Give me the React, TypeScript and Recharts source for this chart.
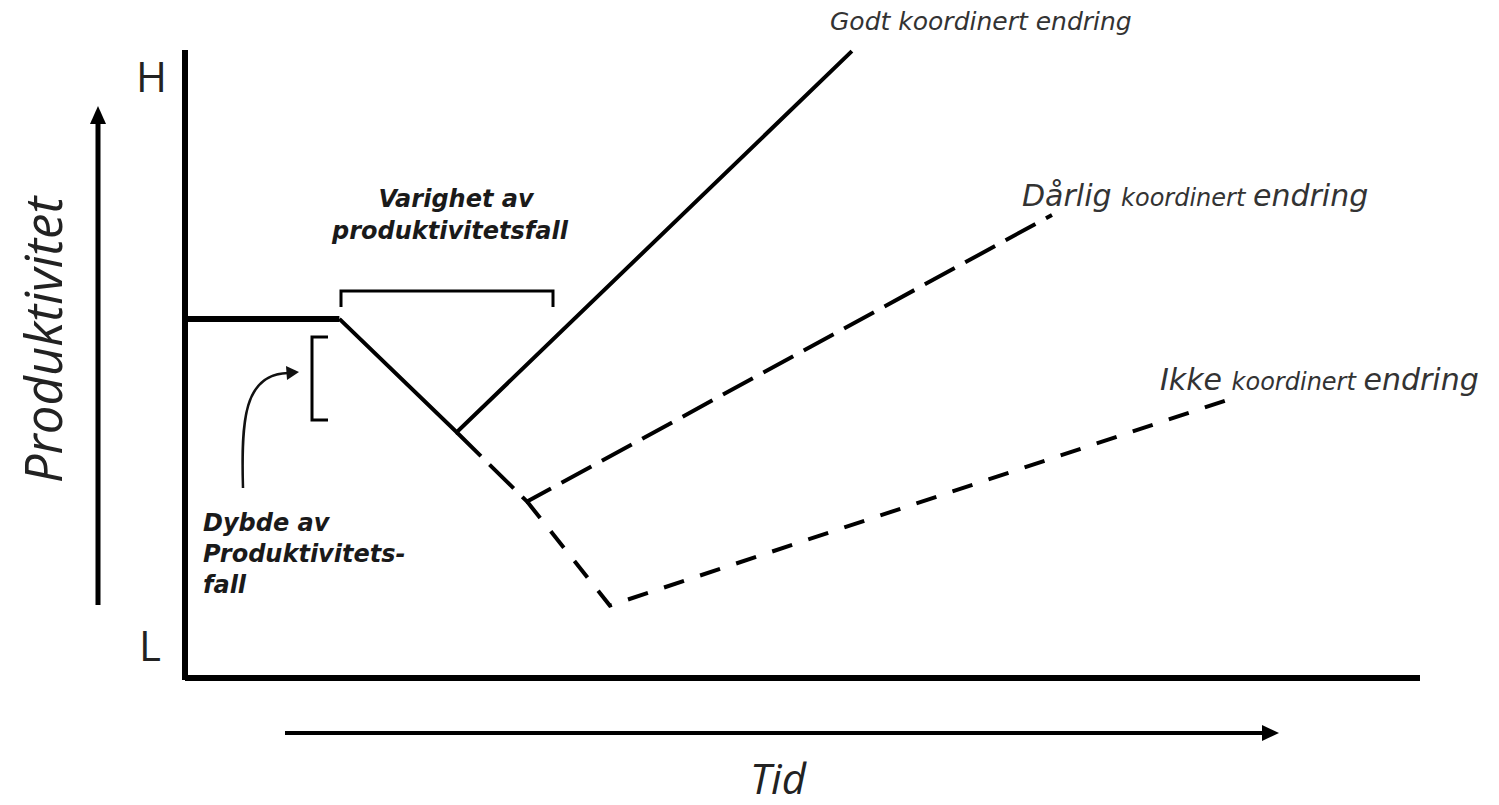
import { LineChart, Line, XAxis, YAxis, ReferenceLine } from 'recharts';

// Konseptdiagram: produktivitet over tid ved endring
const baseTid = [0, 12.5];
const baseProd = [57, 57];
const godtTid = [12.5, 22, 54];
const godtProd = [57, 39, 99.5];
const darligTid = [22, 27.7, 70.2];
const darligProd = [39, 28, 73.5];
const ikkeTid = [27.7, 34.4, 84.8];
const ikkeProd = [28, 11.5, 44.4];

const toRows = (xs: number[], ys: number[]) => xs.map((x, i) => ({ tid: x, prod: ys[i] }));

const W = 1499;
const H = 805;

const labelFont = '"DejaVu Sans", Verdana, sans-serif';
const axisFont = '"Open Sans", sans-serif';

export default function App() {
  return (
    <div style={{ position: 'absolute', left: 0, top: 0, width: W, height: H, background: '#fff' }}>
      <LineChart width={W} height={H} margin={{ top: 48, right: 79, bottom: 127, left: 185 }}>
        <XAxis dataKey="tid" type="number" domain={[0, 100]} hide />
        <YAxis dataKey="prod" type="number" domain={[0, 100]} hide />
        <ReferenceLine
          segment={[{ x: 0, y: 0 }, { x: 100, y: 0 }]}
          stroke="#000"
          strokeWidth={6}
          ifOverflow="visible"
        />
        <ReferenceLine
          segment={[{ x: 0, y: -0.3 }, { x: 0, y: 99.7 }]}
          stroke="#000"
          strokeWidth={6}
          ifOverflow="visible"
        />
        <Line
          data={toRows(baseTid, baseProd)}
          dataKey="prod"
          stroke="#000"
          strokeWidth={6}
          dot={false}
          activeDot={false}
          isAnimationActive={false}
        />
        <Line
          data={toRows(godtTid, godtProd)}
          dataKey="prod"
          stroke="#000"
          strokeWidth={4}
          dot={false}
          activeDot={false}
          isAnimationActive={false}
        />
        <Line
          data={toRows(darligTid, darligProd)}
          dataKey="prod"
          stroke="#000"
          strokeWidth={4}
          strokeDasharray="34 12"
          dot={false}
          activeDot={false}
          isAnimationActive={false}
        />
        <Line
          data={toRows(ikkeTid, ikkeProd)}
          dataKey="prod"
          stroke="#000"
          strokeWidth={4}
          strokeDasharray="21 17"
          dot={false}
          activeDot={false}
          isAnimationActive={false}
        />
      </LineChart>

      <svg
        width={W}
        height={H}
        style={{ position: 'absolute', left: 0, top: 0, pointerEvents: 'none' }}
      >
        {/* pil opp */}
        <line x1={98} y1={605} x2={98} y2={120} stroke="#000" strokeWidth={5} />
        <polygon points="98,106 90,124 106,124" fill="#000" />
        {/* pil mot hoyre */}
        <line x1={285} y1={733} x2={1264} y2={733} stroke="#000" strokeWidth={4} />
        <polygon points="1279,733 1262,725 1262,741" fill="#000" />
        {/* krum pil */}
        <path d="M243,488 C241,420 244,374 288,373" fill="none" stroke="#111" strokeWidth={2.5} />
        <polygon points="299,372 286,366 287,380" fill="#111" />
        {/* klammer */}
        <path d="M341,307 L341,291 L553,291 L553,307" fill="none" stroke="#000" strokeWidth={3} />
        <path d="M328,337 L312,337 L312,420 L328,420" fill="none" stroke="#000" strokeWidth={3} />

        <text x={136} y={92} fontFamily={axisFont} fontSize={42} fill="#222">H</text>
        <text x={139} y={661} fontFamily={axisFont} fontSize={42} fill="#222">L</text>
        <text
          transform="translate(62,340) rotate(-90)"
          textAnchor="middle"
          fontFamily={axisFont}
          fontStyle="italic"
          fontSize={51}
          fill="#222"
        >
          Produktivitet
        </text>
        <text x={778} y={794} textAnchor="middle" fontFamily={axisFont} fontStyle="italic" fontSize={42} fill="#222">
          Tid
        </text>

        <g fontFamily={labelFont} fontStyle="italic" fontWeight="bold" fontSize={24} fill="#1a1a1a">
          <text x={456} y={207} textAnchor="middle">Varighet av</text>
          <text x={450} y={239} textAnchor="middle">produktivitetsfall</text>
          <text x={203} y={531}>Dybde av</text>
          <text x={203} y={562}>Produktivitets-</text>
          <text x={203} y={593}>fall</text>
        </g>

        <g fontFamily={labelFont} fontStyle="italic" fill="#333">
          <text x={830} y={30} fontSize={25}>Godt koordinert endring</text>
          <text x={1022} y={206}>
            <tspan fontSize={30}>Dårlig </tspan>
            <tspan fontSize={24}>koordinert </tspan>
            <tspan fontSize={30}>endring</tspan>
          </text>
          <text x={1160} y={390}>
            <tspan fontSize={30}>Ikke </tspan>
            <tspan fontSize={24}>koordinert </tspan>
            <tspan fontSize={30}>endring</tspan>
          </text>
        </g>
      </svg>
    </div>
  );
}
